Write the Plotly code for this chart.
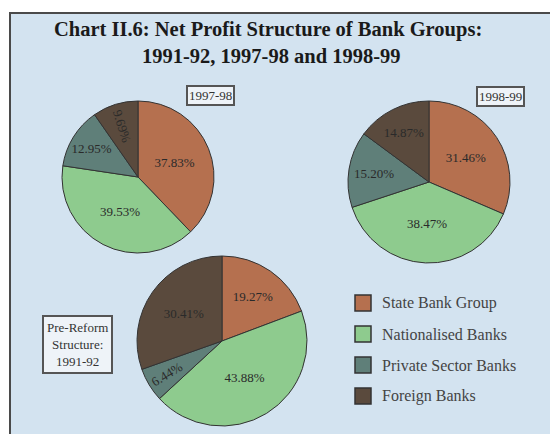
import plotly.graph_objects as go

categories = ["State Bank Group", "Nationalised Banks", "Private Sector Banks", "Foreign Banks"]
colors = ["#b5704f", "#8ecb8e", "#5f7f79", "#5a4a3d"]

vals_1997_98 = [37.83, 39.53, 12.95, 9.69]
vals_1998_99 = [31.46, 38.47, 15.20, 14.87]
vals_1991_92 = [19.27, 43.88, 6.44, 30.41]

W, H = 550, 434
BG = "#d3e3f0"
SERIF = "Liberation Serif, Times New Roman, serif"


def px_dom(cx, cy, r):
    return dict(x=[(cx - r) / W, (cx + r) / W], y=[1 - (cy + r) / H, 1 - (cy - r) / H])


def pie(vals, dom, name):
    return go.Pie(
        labels=categories, values=vals, name=name,
        text=[f"{v:.2f}%" for v in vals], textinfo="text",
        textposition="inside", insidetextorientation="auto",
        textfont=dict(family=SERIF, size=13, color="#2a2a2a"),
        marker=dict(colors=colors, line=dict(color="#333333", width=1)),
        sort=False, direction="clockwise", rotation=0,
        domain=dom, showlegend=False, hoverinfo="label+percent",
    )


fig = go.Figure()
fig.add_trace(pie(vals_1997_98, px_dom(138, 177, 76), "1997-98"))
fig.add_trace(pie(vals_1998_99, px_dom(429, 182, 81), "1998-99"))
fig.add_trace(pie(vals_1991_92, px_dom(222, 341, 85), "1991-92"))

shapes = [
    dict(type="rect", xref="paper", yref="paper", x0=10 / W, x1=1.1, y0=-0.1, y1=1 - 13 / H,
         fillcolor=BG, line=dict(color="#4a4a4a", width=2), layer="below"),
]


def ann(text, x, y, **kw):
    d = dict(text=text, x=x / W, y=1 - y / H, xref="paper", yref="paper", showarrow=False,
             xanchor="center", yanchor="middle")
    d.update(kw)
    return d


box_style = dict(font=dict(family=SERIF, size=13, color="#333"), bgcolor="#eef3f8",
                 bordercolor="#555", borderwidth=2)

annotations = [
    ann("<b>Chart II.6: Net Profit Structure of Bank Groups:</b>", 268, 43, yanchor="bottom",
        font=dict(family=SERIF, size=20.5, color="#1a1a1a")),
    ann("<b>1991-92, 1997-98 and 1998-99</b>", 271, 43, yanchor="top",
        font=dict(family=SERIF, size=20.5, color="#1a1a1a")),
    ann("1997-98", 210, 95, borderpad=1, **box_style),
    ann("1998-99", 500, 96, borderpad=1, **box_style),
    ann("Pre-Reform<br>Structure:<br>1991-92", 77, 344, borderpad=3, **box_style),
]

# legend drawn from categories / colors
leg_x, leg_y0, leg_dy, sq = 355, 303, 31, 16
for i, (cat, col) in enumerate(zip(categories, colors)):
    cy = leg_y0 + i * leg_dy
    shapes.append(dict(type="rect", xref="paper", yref="paper",
                       x0=leg_x / W, x1=(leg_x + sq) / W,
                       y0=1 - (cy + sq / 2) / H, y1=1 - (cy - sq / 2) / H,
                       fillcolor=col, line=dict(color="#333", width=1.5)))
    annotations.append(ann(cat, leg_x + sq + 9, cy, xanchor="left",
                           font=dict(family=SERIF, size=16, color="#444")))

fig.update_layout(
    width=W, height=H, margin=dict(l=0, r=0, t=0, b=0),
    paper_bgcolor="white", plot_bgcolor="white",
    shapes=shapes, annotations=annotations, showlegend=False,
)

fig.write_html("out.html")
